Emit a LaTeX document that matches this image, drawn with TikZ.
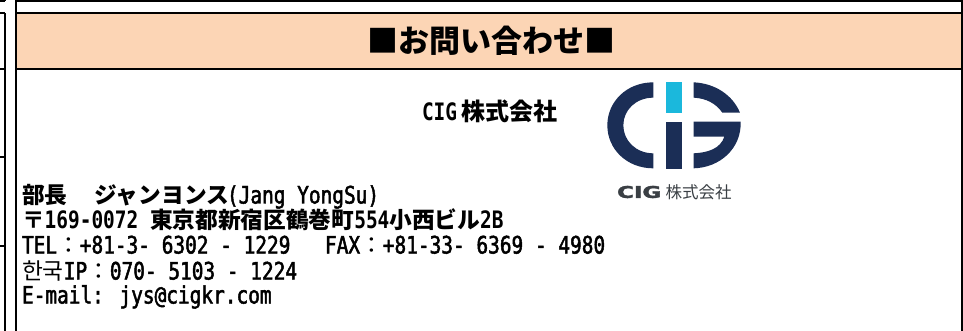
\documentclass[tikz,border=0pt]{standalone}
\usepackage{fontspec}
\setmainfont{DejaVu Sans Mono}
\newfontfamily\ms{DejaVu Sans Mono}[FakeStretch=0.81,FakeBold=2]
\newfontfamily\msb{DejaVu Sans Mono}[FakeStretch=0.81]
\newfontfamily\jp{Noto Sans CJK JP}
\newfontfamily\kr{Noto Sans CJK KR}
\newfontfamily\heavy{DejaVu Sans}[FakeBold=2]
\definecolor{peach}{HTML}{FCD5B5}
\definecolor{navy}{HTML}{1B2E56}
\definecolor{cyanbar}{HTML}{1BB8DC}
\definecolor{logogray}{HTML}{3A3F44}
\tikzset{
  rule/.style={draw=black,line width=2pt},
  txtline/.style={anchor=base west,inner sep=0pt,outer sep=0pt,text=black,font=\fontsize{24}{26}\selectfont},
}
\newcommand{\J}[1]{{\jp\bfseries #1}}
\newcommand{\Js}[1]{{\fontsize{22.7}{26}\selectfont\jp\bfseries #1}}
\newcommand{\Jl}[1]{{\fontsize{22.7}{26}\selectfont\jp #1}}
\newcommand{\Kr}[1]{{\fontsize{22.7}{26}\selectfont\kr #1}}
\newcommand{\A}[1]{{\ms #1}}
\newcommand{\B}[1]{{\msb\bfseries #1}}
\begin{document}
\begin{tikzpicture}[x=1pt,y=-1pt]
\useasboundingbox (0,0) rectangle (963,331);
\fill[white] (0,0) rectangle (963,331);
% header band
\fill[peach] (16,13.5) rectangle (962,69.5);
% frame
\draw[rule] (16,0) -- (16,331);
\draw[rule] (962,0) -- (962,331);
\draw[rule] (16,1.5) -- (962,1.5);
\draw[rule] (302,0) -- (302,1.5);
\draw[rule] (16,13.5) -- (962,13.5);
\draw[rule] (16,69.5) -- (962,69.5);
% left neighbour column
\draw[rule] (5,13.5) -- (5,331);
\draw[rule] (0,13.5) -- (5,13.5);
\draw[rule] (0,69.5) -- (5,69.5);
\draw[rule] (0,157) -- (5,157);
\draw[rule] (0,246) -- (5,246);
\draw[rule] (0,1.5) -- (5,1.5);
\draw[rule] (5,0) -- (5,1.5);
% title
\node[anchor=center,inner sep=0pt,font=\fontsize{31}{31}\selectfont] (title) at (491,41) {\J{■お問い合わせ■}};
\node[txtline] (company) at (422,121) {\B{CIG}\hspace{4pt}\J{株式会社}};
% contact lines
\node[txtline] (l1) at (22,203.5) {\Js{部長}\hspace{27pt}\Js{ジャンヨンス}\hspace{-2pt}\A{(Jang YongSu)}};
\node[txtline] (l2) at (22,228) {\Js{〒}\B{169-0072 }\Js{東京都新宿区鶴巻町}\B{554}\Js{小西ビル}\B{2B}};
\node[txtline] (l3) at (22,253.5) {\A{TEL}\Jl{：}\A{+81-3- 6302 - 1229}};
\node[txtline] (l3b) at (325,253.5) {\A{FAX}\Jl{：}\A{+81-33- 6369 - 4980}};
\node[txtline] (l4) at (22,279.5) {\Kr{한국}\A{IP}\Jl{：}\A{070- 5103 - 1224}};
\node[txtline] (l5) at (22,303.5) {\A{E-mail: jys@cigkr.com}};
% logo
\begin{scope}[shift={(590,70)},x=0.3333pt,y=-0.3333pt]
  \fill[cyanbar] (227,37) rectangle (276,128);
  \fill[navy] (227,155) rectangle (276,297);
  % left C
  \fill[navy] (190,37) .. controls (110,37) and (52,95) .. (52,166)
     .. controls (52,237) and (110,295) .. (190,295) -- (190,250)
     .. controls (138,250) and (100,212) .. (100,166)
     .. controls (100,120) and (138,83) .. (190,83) -- cycle;
  % top right arc
  \fill[navy] (311,37) .. controls (375,40) and (428,75) .. (450,128) -- (397,128)
     .. controls (378,100) and (348,85) .. (311,83) -- cycle;
  % G bottom
  \fill[navy] (311,155) -- (452,155) .. controls (455,235) and (390,293) .. (311,295)
     -- (311,250) .. controls (355,248) and (392,235) .. (403,200) -- (311,200) -- cycle;
\end{scope}
\node[anchor=west,inner sep=0pt,text=logogray] (logocig) at (617,192) {\resizebox{44pt}{12pt}{\heavy\bfseries CIG}};
\node[anchor=west,inner sep=0pt,text=logogray,font=\fontsize{16.5}{16.5}\selectfont\jp] (logojp) at (665.5,192) {株式会社};
\end{tikzpicture}
\end{document}
